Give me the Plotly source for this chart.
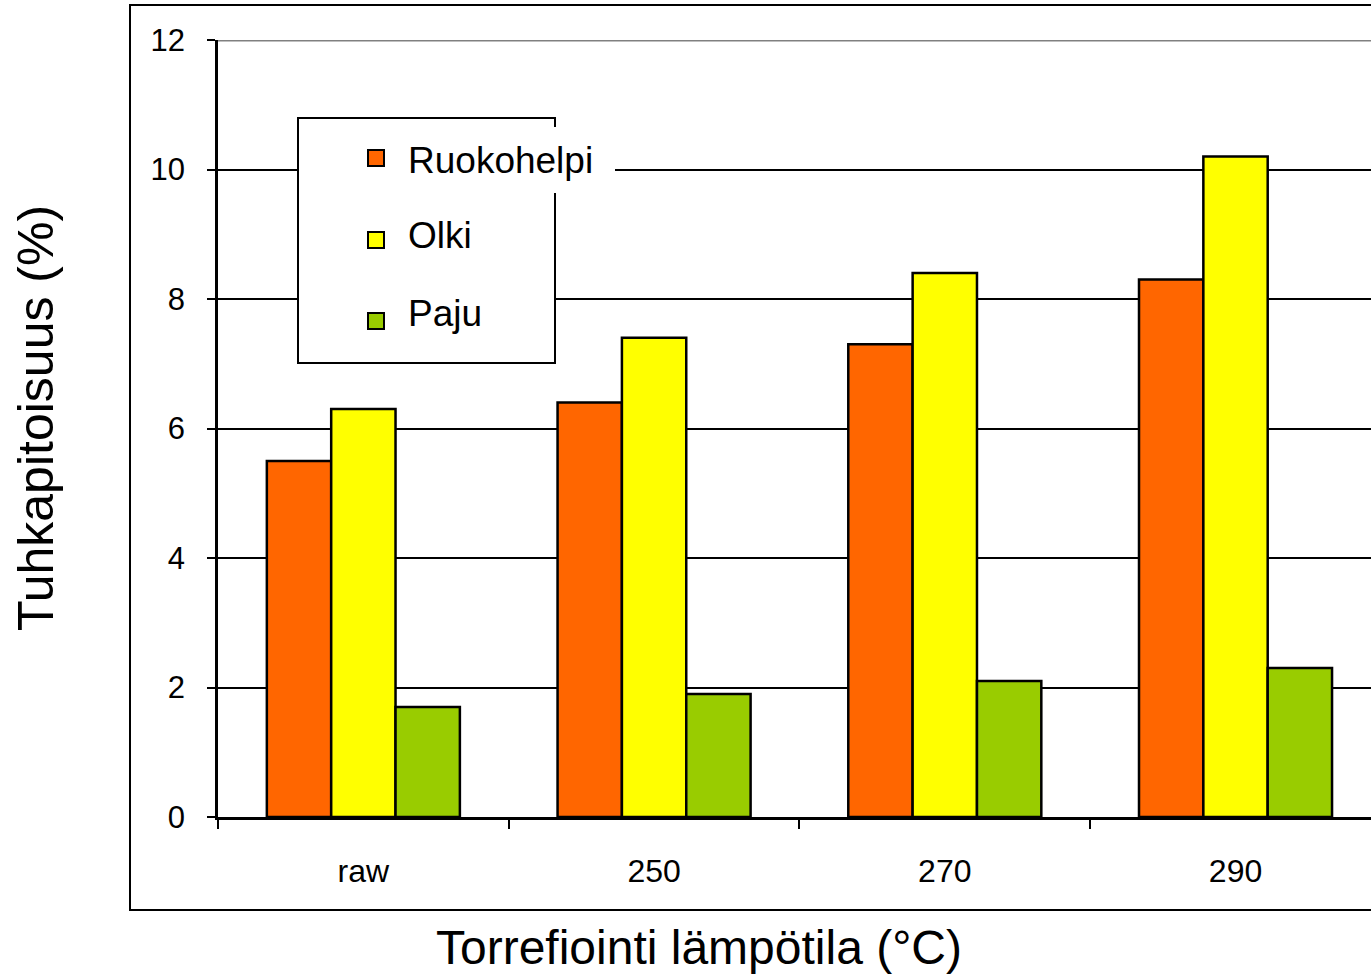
import plotly.graph_objects as go

# Ash content by torrefaction temperature
categories = ["raw", "250", "270", "290"]
series_names = ["Ruokohelpi", "Olki", "Paju"]
ruokohelpi = [5.5, 6.4, 7.3, 8.3]
olki = [6.3, 7.4, 8.4, 10.2]
paju = [1.7, 1.9, 2.1, 2.3]
y_ticks = [0, 2, 4, 6, 8, 10, 12]
colors = ["#FF6600", "#FFFF00", "#99CC00"]

W, H = 1371, 979
L, T, B = 218, 40, 162
PW, PH = W - L, H - T - B
FONT = "Liberation Sans, Arial, sans-serif"


def px(x):
    return (x - L) / PW


def py(y):
    return (H - B - y) / PH


fig = go.Figure()
for name, vals, col in zip(series_names, [ruokohelpi, olki, paju], colors):
    fig.add_trace(go.Bar(
        x=categories, y=vals, name=name,
        marker=dict(color=col, line=dict(color="black", width=2.5)),
        showlegend=False,
    ))

shapes = []
# outer chart frame
shapes.append(dict(type="rect", xref="paper", yref="paper",
                   x0=px(130), x1=px(1400), y0=py(910), y1=py(5),
                   line=dict(color="black", width=2), layer="above"))
# top gridline in grey
shapes.append(dict(type="line", xref="paper", yref="y",
                   x0=0, x1=1, y0=12, y1=12,
                   line=dict(color="#808080", width=3), layer="above"))
# legend box
shapes.append(dict(type="rect", xref="paper", yref="paper",
                   x0=px(298), x1=px(555), y0=py(363), y1=py(118),
                   line=dict(color="black", width=2), fillcolor="white",
                   layer="above"))
# white backing behind the first legend label
shapes.append(dict(type="rect", xref="paper", yref="paper",
                   x0=px(400), x1=px(615), y0=py(193), y1=py(127),
                   line=dict(width=0), fillcolor="white", layer="above"))
# legend swatches
for cy, col in zip([158, 240, 321], colors):
    shapes.append(dict(type="rect", xref="paper", yref="paper",
                       x0=px(368), x1=px(384), y0=py(cy + 8), y1=py(cy - 8),
                       line=dict(color="black", width=2), fillcolor=col,
                       layer="above"))

annotations = []
for name, cy in zip(series_names, [161, 236, 313]):
    annotations.append(dict(text=name, xref="paper", yref="paper",
                            x=px(406), y=py(cy), xanchor="left",
                            yanchor="middle", showarrow=False,
                            font=dict(family=FONT, size=37, color="black")))
annotations.append(dict(text="Tuhkapitoisuus (%)", xref="paper", yref="paper",
                        x=px(36), y=py(418), textangle=-90,
                        xanchor="center", yanchor="middle", showarrow=False,
                        font=dict(family=FONT, size=50, color="black")))
annotations.append(dict(text="Torrefiointi lämpötila (°C)", xref="paper",
                        yref="paper", x=px(699), y=py(947),
                        xanchor="center", yanchor="middle", showarrow=False,
                        font=dict(family=FONT, size=48, color="black")))

fig.update_layout(
    width=W, height=H,
    margin=dict(l=L, r=0, t=T, b=B, pad=0),
    paper_bgcolor="white", plot_bgcolor="white",
    barmode="group", bargap=0.336, bargroupgap=0,
    shapes=shapes, annotations=annotations,
    xaxis=dict(
        type="category", range=[-0.5, 3.466],
        tickson="boundaries", ticks="outside", ticklen=9, tickwidth=2,
        tickcolor="black", showline=True, linecolor="black", linewidth=2.5,
        showgrid=False, ticklabelstandoff=24,
        tickfont=dict(family=FONT, size=32, color="black"),
    ),
    yaxis=dict(
        range=[0, 12], tickvals=y_ticks, ticks="outside", ticklen=8,
        tickwidth=2, tickcolor="black", showline=True, linecolor="black",
        linewidth=2.5, showgrid=True, gridcolor="black", gridwidth=2,
        zeroline=False, ticklabelstandoff=16,
        tickfont=dict(family=FONT, size=31, color="black"),
    ),
)

fig.write_html("out.html")
